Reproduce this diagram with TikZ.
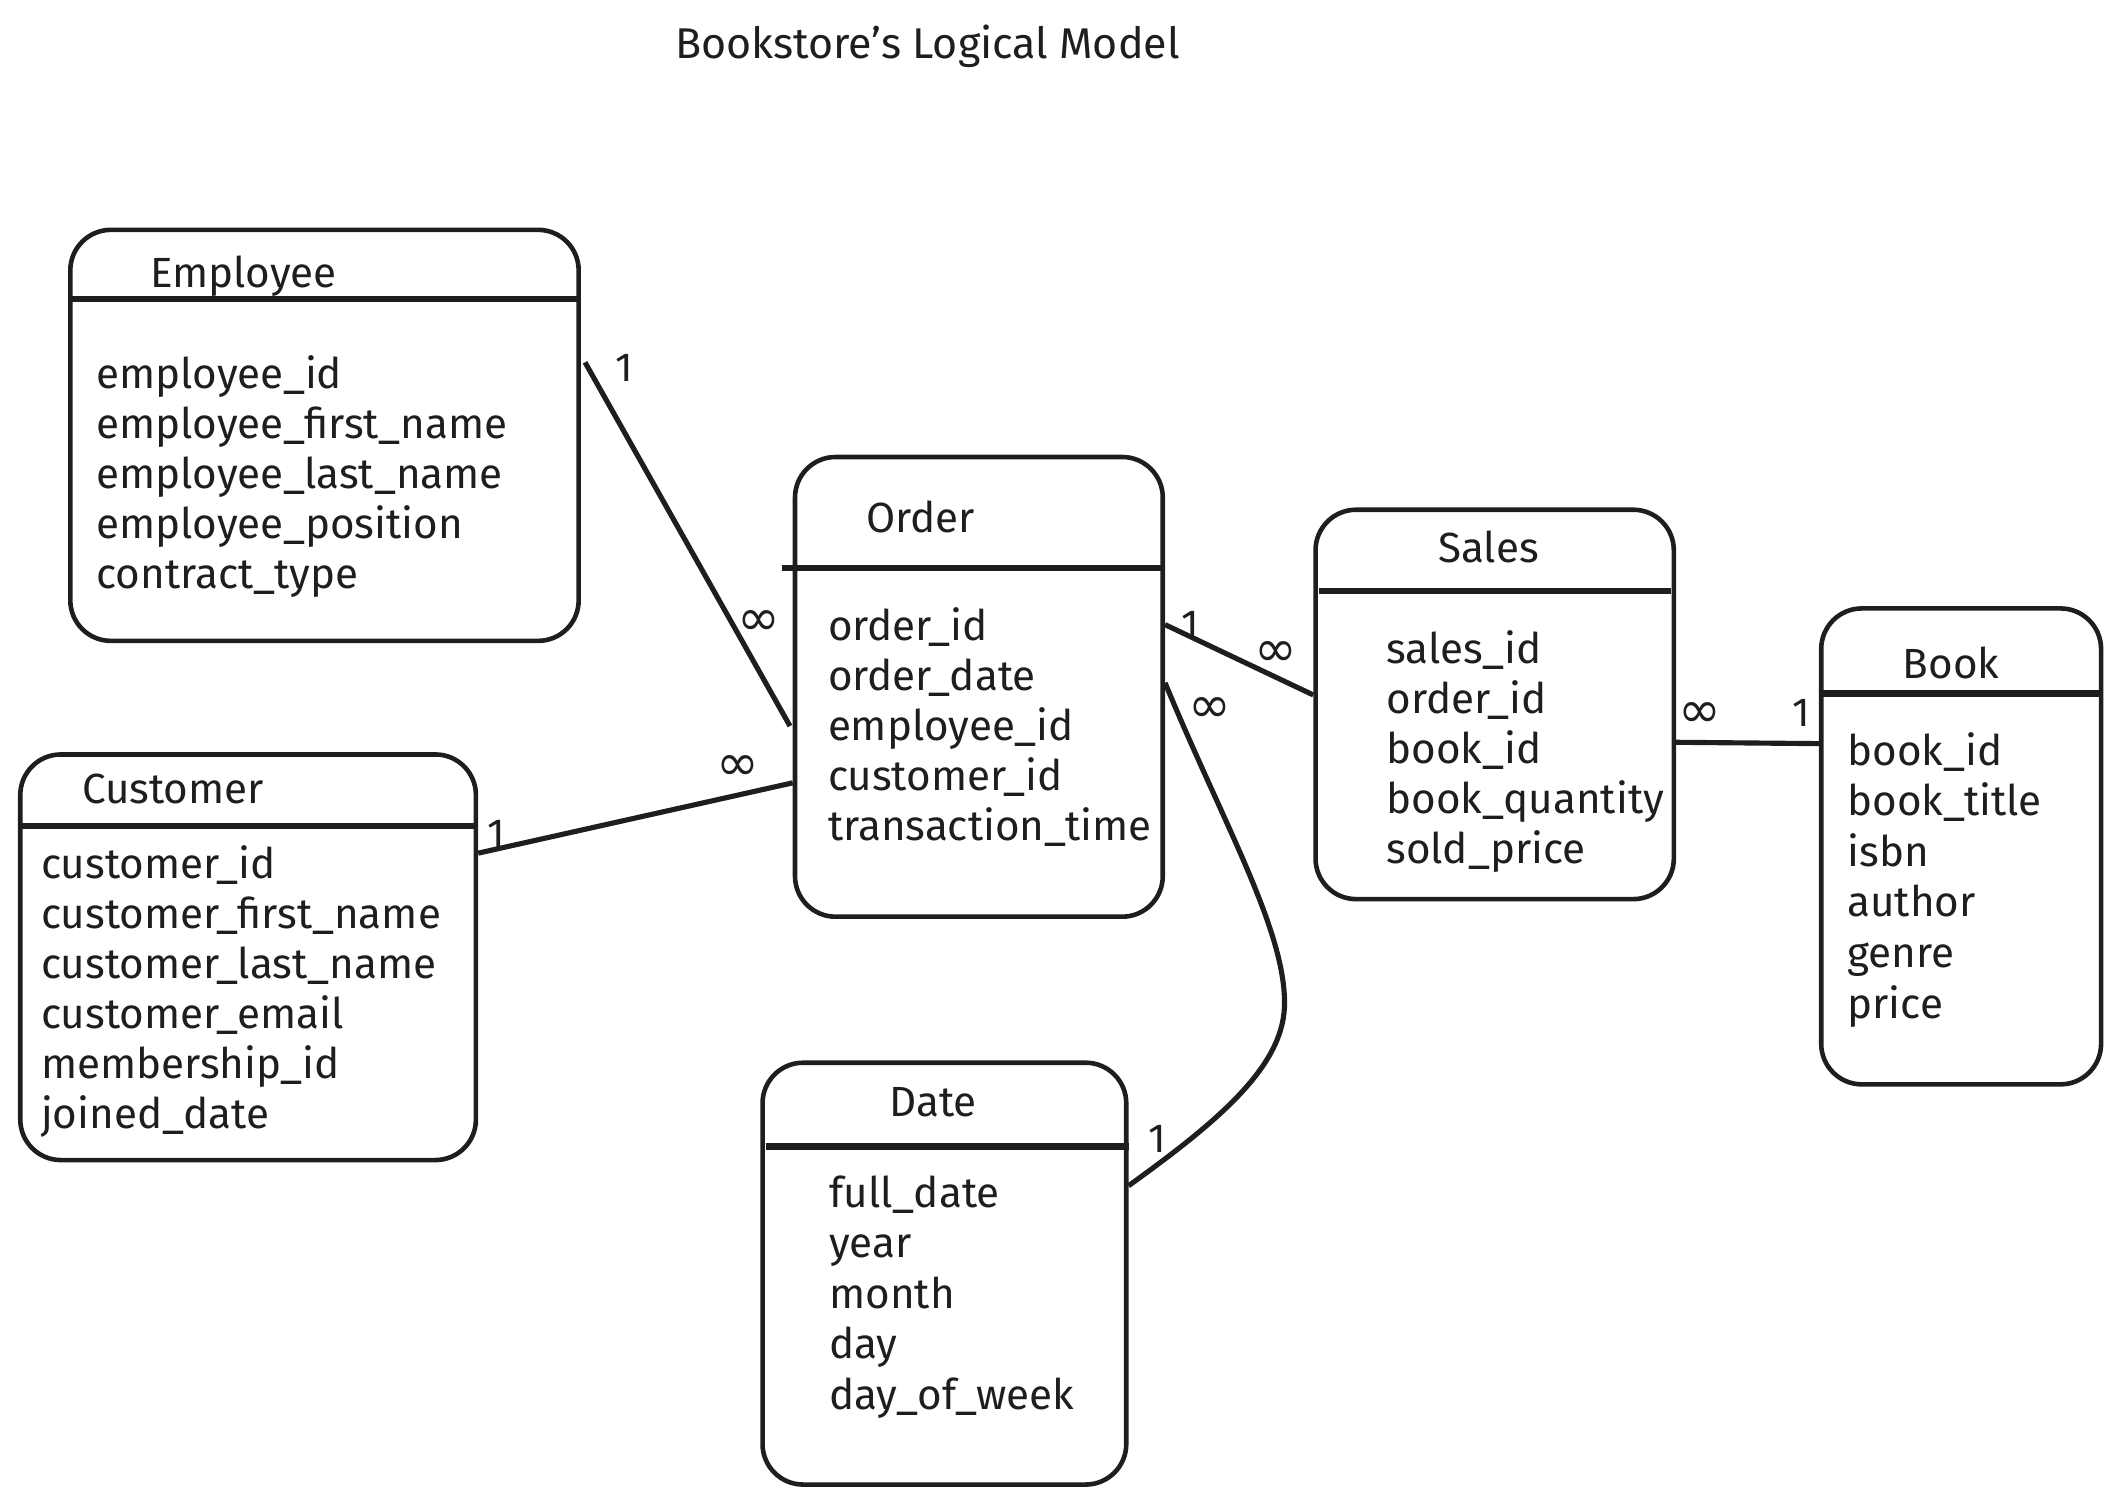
\documentclass[tikz,border=0pt]{standalone}
\usepackage{fontspec}
\setmainfont{Fira Sans}
\newfontfamily\symfnt{DejaVu Sans}
\usetikzlibrary{fit,calc}
\definecolor{ink}{HTML}{1E1E1E}
\begin{document}
\begin{tikzpicture}[x=0.5pt,y=-0.5pt,
  box/.style={draw=ink, line width=1.7pt, rounded corners=15pt, inner sep=0pt},
  hdr/.style={draw=ink, line width=2.4pt},
  conn/.style={draw=ink, line width=1.9pt},
  ttl/.style={font=\fontsize{15.6pt}{18pt}\selectfont, text=ink, anchor=base, inner sep=0pt},
  attr/.style={font=\fontsize{15.6pt}{18pt}\selectfont, text=ink, anchor=base west, inner sep=0pt},
  card/.style={font=\fontsize{15pt}{17pt}\selectfont, text=ink, inner sep=0pt},
  inf/.style={font=\symfnt\fontsize{19pt}{19pt}\selectfont, text=ink, inner sep=0pt}]
\useasboundingbox (0,0) rectangle (1568,1114);

% title
\node[ttl, font=\fontsize{15.9pt}{18pt}\selectfont] (title) at (686,43) {Bookstore's Logical Model};

% boxes
\node[box, fit={(52,170) (428,474)}] (emp) {};
\node[box, fit={(588,338) (860,678)}] (ord) {};
\node[box, fit={(973,377) (1238,665)}] (sal) {};
\node[box, fit={(1347,450) (1554,802)}] (book) {};
\node[box, fit={(15,558) (352,858)}] (cus) {};
\node[box, fit={(564,786) (833,1098)}] (date) {};

% header lines
\draw[hdr] (emp.west |- 0,221) -- (emp.east |- 0,221);
\draw[hdr] ($(ord.west |- 0,420)+(-8,0)$) -- (ord.east |- 0,420);
\draw[hdr] ($(sal.west |- 0,437)+(4,0)$) -- ($(sal.east |- 0,437)+(-4,0)$);
\draw[hdr] (book.west |- 0,513) -- (book.east |- 0,513);
\draw[hdr] ($(cus.west |- 0,611)+(3,0)$) -- (cus.east |- 0,611);
\draw[hdr] ($(date.west |- 0,848)+(4,0)$) -- (date.east |- 0,848);

% header titles
\node[ttl] (empT) at (180,213) {Employee};
\node[ttl] (ordT) at (681,394) {Order};
\node[ttl] (salT) at (1101,416) {Sales};
\node[ttl] (bookT) at (1443,502) {Book};
\node[ttl] (cusT) at (128,594) {Customer};
\node[ttl] (dateT) at (690,826) {Date};

% attributes
\foreach \t [count=\i from 0] in {employee\_id,employee\_first\_name,employee\_last\_name,employee\_position,contract\_type}
  \node[attr, name=empA\i] at (71,{287+37*\i}) {\t};
\foreach \t [count=\i from 0] in {order\_id,order\_date,employee\_id,customer\_id,transaction\_time}
  \node[attr, name=ordA\i] at (612,{474+37*\i}) {\t};
\foreach \t [count=\i from 0] in {sales\_id,order\_id,book\_id,book\_quantity,sold\_price}
  \node[attr, name=salA\i] at (1025,{491+37*\i}) {\t};
\foreach \t [count=\i from 0] in {book\_id,book\_title,isbn,author,genre,price}
  \node[attr, name=bookA\i] at (1366,{566+37.4*\i}) {\t};
\foreach \t [count=\i from 0] in {customer\_id,customer\_first\_name,customer\_last\_name,customer\_email,membership\_id,joined\_date}
  \node[attr, name=cusA\i] at (30,{650+37*\i}) {\t};
\foreach \t [count=\i from 0] in {full\_date,year,month,day,day\_of\_week}
  \node[attr, name=dateA\i] at (613,{893+37.3*\i}) {\t};

% connectors
\draw[conn] ($(emp.east |- 0,268)+(3,0)$) -- ($(ord.west |- 0,537)+(-2,0)$);
\draw[conn] (cus.east |- 0,631) -- (ord.west |- 0,579);
\draw[conn] (ord.east |- 0,462) -- (sal.west |- 0,514);
\draw[conn] (sal.east |- 0,549) -- (book.west |- 0,550);
\draw[conn] (ord.east |- 0,505) .. controls (905,610) and (952,690) .. (950,745)
  .. controls (948,790) and (900,830) .. (date.east |- 0,877);

% cardinalities
\node[card] (c1) at (462,272) {1};
\node[inf] (c2) at (561,461) {∞};
\node[inf] (c3) at (546,568) {∞};
\node[card] (c4) at (367,617) {1};
\node[card] (c5) at (880,462) {1};
\node[inf] (c6) at (944,484) {∞};
\node[inf] (c7) at (895,525) {∞};
\node[inf] (c8) at (1257,529) {∞};
\node[card] (c9) at (1332,527) {1};
\node[card] (c10) at (856,842) {1};
\end{tikzpicture}
\end{document}
